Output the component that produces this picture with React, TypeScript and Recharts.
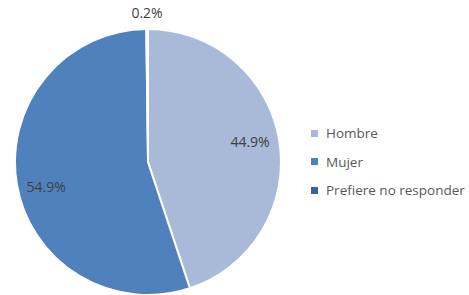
import { PieChart, Pie, Cell, Legend } from 'recharts'

const categories = ['Hombre', 'Mujer', 'Prefiere no responder']
const shares = [44.9, 54.9, 0.2]
const colors = ['#A9B9D8', '#4F81BD', '#3B6496']

const data = categories.map((name, i) => ({ name, value: shares[i] }))

const RADIAN = Math.PI / 180

function renderLabel(props: any) {
    const { cx, cy, midAngle, outerRadius, value } = props
    const small = value < 1
    // small slices get their label outside, the rest sit inside near the rim
    const r = small ? outerRadius + 17 : outerRadius * 0.785
    const angle = small ? midAngle : midAngle + 3
    const x = cx + r * Math.cos(-angle * RADIAN)
    const y = cy + r * Math.sin(-angle * RADIAN) + (small ? 0 : 2)
    return (
        <text
            x={x}
            y={y}
            fill="#404040"
            fontSize={14}
            fontFamily="'Open Sans', sans-serif"
            textAnchor="middle"
            dominantBaseline="central"
        >
            {value.toFixed(1)}%
        </text>
    )
}

function renderLegend() {
    return (
        <div style={{ fontFamily: "'Open Sans', sans-serif", fontSize: 13.5, color: '#595959', whiteSpace: 'nowrap' }}>
            {categories.map((name, i) => (
                <div key={name} style={{ display: 'flex', alignItems: 'center', height: 28.5 }}>
                    <span style={{ width: 7, height: 7, background: colors[i], marginRight: 8, display: 'inline-block', flexShrink: 0 }} />
                    <span>{name}</span>
                </div>
            ))}
        </div>
    )
}

export default function App() {
    return (
        <div style={{ position: 'absolute', left: 0, top: 0, width: 469, height: 295, background: '#fff', overflow: 'hidden' }}>
            <PieChart width={469} height={295} margin={{ top: 0, right: 0, bottom: 0, left: 0 }}>
                <Pie
                    data={data}
                    dataKey="value"
                    nameKey="name"
                    cx={148}
                    cy={162}
                    outerRadius={133}
                    startAngle={90}
                    endAngle={-270}
                    stroke="#ffffff"
                    strokeWidth={2}
                    label={renderLabel}
                    labelLine={false}
                    isAnimationActive={false}
                >
                    {data.map((entry, i) => (
                        <Cell key={`cell-${entry.name}`} fill={colors[i]} />
                    ))}
                </Pie>
                <Legend
                    layout="vertical"
                    verticalAlign="middle"
                    align="right"
                    wrapperStyle={{ left: 311, top: 119, right: 'auto', width: 158 }}
                    content={renderLegend}
                />
            </PieChart>
        </div>
    )
}
